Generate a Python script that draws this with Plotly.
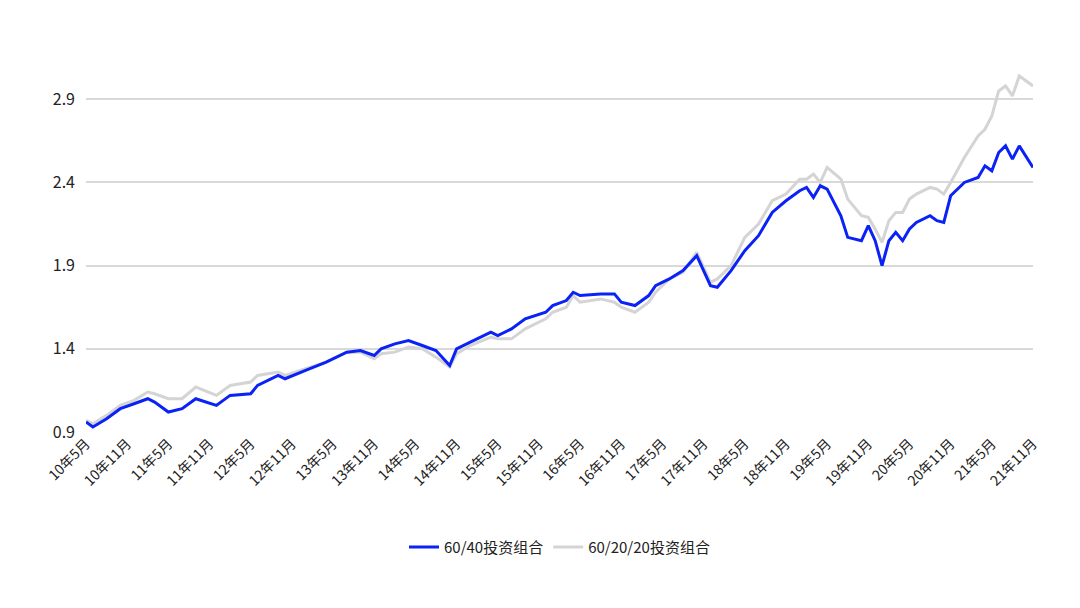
import plotly.graph_objects as go

# month index from 2010-05
month_idx = [0, 1, 3, 5, 7, 9, 10, 12, 14, 16, 19, 21, 24, 25, 28, 29, 32, 35, 38, 40,
             42, 43, 45, 47, 49, 51, 53, 54, 56, 59, 60, 62, 64, 67, 68, 70, 71, 72, 75, 77,
             78, 80, 82, 83, 85, 87, 89, 91, 92, 94, 96, 98, 100, 102, 104, 105, 106, 107, 108, 110,
             111, 113, 114, 115, 116, 117, 118, 119, 120, 121, 123, 124, 125, 126, 128, 130, 131, 132, 133, 134,
             135, 136, 138]

p6040 = [0.96, 0.93, 0.98, 1.04, 1.07, 1.10, 1.08, 1.02, 1.04, 1.10, 1.06, 1.12, 1.13, 1.18, 1.24, 1.22, 1.27, 1.32, 1.38, 1.39,
         1.36, 1.40, 1.43, 1.45, 1.42, 1.39, 1.30, 1.40, 1.44, 1.50, 1.48, 1.52, 1.58, 1.62, 1.66, 1.69, 1.74, 1.72, 1.73, 1.73,
         1.68, 1.66, 1.72, 1.78, 1.82, 1.87, 1.96, 1.78, 1.77, 1.87, 1.99, 2.08, 2.22, 2.29, 2.35, 2.37, 2.31, 2.38, 2.36, 2.20,
         2.07, 2.05, 2.14, 2.05, 1.90, 2.05, 2.10, 2.05, 2.12, 2.16, 2.20, 2.17, 2.16, 2.32, 2.40, 2.43, 2.50, 2.47, 2.58, 2.62,
         2.54, 2.62, 2.49]

p602020 = [0.97, 0.95, 1.00, 1.06, 1.09, 1.14, 1.13, 1.10, 1.10, 1.17, 1.12, 1.18, 1.20, 1.24, 1.26, 1.24, 1.28, 1.32, 1.38, 1.38,
           1.34, 1.37, 1.38, 1.41, 1.40, 1.35, 1.29, 1.37, 1.42, 1.47, 1.46, 1.46, 1.52, 1.58, 1.62, 1.65, 1.72, 1.68, 1.70, 1.68,
           1.65, 1.62, 1.68, 1.74, 1.82, 1.86, 1.98, 1.80, 1.82, 1.90, 2.07, 2.15, 2.29, 2.33, 2.42, 2.42, 2.45, 2.40, 2.49, 2.42,
           2.30, 2.20, 2.19, 2.12, 2.04, 2.17, 2.22, 2.22, 2.30, 2.33, 2.37, 2.36, 2.33, 2.40, 2.55, 2.68, 2.72, 2.80, 2.95, 2.98,
           2.92, 3.04, 2.98]

tick_idx = list(range(0, 139, 6))
tick_text = []
for i in tick_idx:
    y = 10 + (4 + i) // 12
    m = (4 + i) % 12 + 1
    tick_text.append(f"{y}年{m}月")

fig = go.Figure()
fig.add_trace(go.Scatter(x=month_idx, y=p602020, mode="lines", name="60/20/20投资组合",
                         line=dict(color="#d4d4d4", width=3)))
fig.add_trace(go.Scatter(x=month_idx, y=p6040, mode="lines", name="60/40投资组合",
                         line=dict(color="#0a22f5", width=3)))

fig.update_layout(
    width=1080, height=608,
    plot_bgcolor="white", paper_bgcolor="white",
    font=dict(family="Noto Sans CJK SC", size=14, color="#222"),
    margin=dict(l=78, r=55, t=58, b=184),
    showlegend=True,
    legend=dict(orientation="h", x=0.5, xanchor="center", y=-0.27, yanchor="top",
                traceorder="reversed", font=dict(size=15)),
    xaxis=dict(range=[0, 138], tickvals=tick_idx, ticktext=tick_text, tickangle=-45,
               showgrid=False, zeroline=False, showline=False),
    yaxis=dict(range=[0.9, 3.1], tickvals=[0.9, 1.4, 1.9, 2.4, 2.9], ticktext=["0.9", "1.4", "1.9", "2.4", "2.9"],
               tickfont=dict(size=16), ticklabelstandoff=10,
               showgrid=True, gridcolor="#d9d9d9", gridwidth=1.5, zeroline=False),
)

fig.write_html("out.html")
